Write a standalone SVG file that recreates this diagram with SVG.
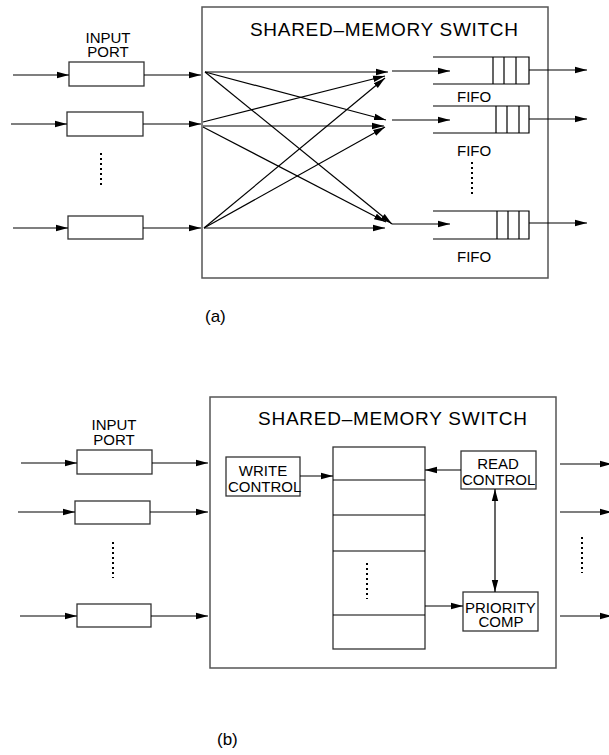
<svg xmlns="http://www.w3.org/2000/svg" width="609" height="755" viewBox="0 0 609 755">
<defs>
<marker id="ah" markerUnits="userSpaceOnUse" markerWidth="12" markerHeight="8" viewBox="0 0 12 8" refX="12" refY="4" orient="auto-start-reverse">
<path d="M0,0.8 L12,4 L0,7.2 Z" fill="#000"/>
</marker>
</defs>
<style>
.box{fill:#fff;stroke:#333;stroke-width:1.3}
.frame{fill:#fff;stroke:#555;stroke-width:1.5}
.ln{stroke:#000;stroke-width:1.2;fill:none}
.ar{stroke:#000;stroke-width:1.2;fill:none;marker-end:url(#ah)}
.dots{stroke:#000;stroke-width:2;stroke-dasharray:2 3;fill:none}
text{font-family:"Liberation Sans",Arial,sans-serif;fill:#000}
.lbl{font-size:15px}
.ttl{font-size:19px}
.cap{font-size:17px}
</style>

<g id="a-switch">
<rect class="frame" x="202" y="7" width="346" height="271"/>
<text class="ttl" x="250" y="36" textLength="268">SHARED–MEMORY SWITCH</text>
</g>

<g id="a-inport1">
<rect class="box" x="69" y="62" width="75" height="24"/>
<text class="lbl" x="108" y="43" text-anchor="middle">INPUT</text>
<text class="lbl" x="108" y="57" text-anchor="middle">PORT</text>
</g>
<g id="a-inport2"><rect class="box" x="67" y="112" width="76" height="24"/></g>
<g id="a-inport3"><rect class="box" x="68" y="216" width="75" height="23"/></g>

<g id="a-fifo1">
<path class="ln" d="M433,57 H529 V84 H433 M493,57 V84 M504,57 V84 M516,57 V84"/>
<text class="lbl" x="457" y="102">FIFO</text>
</g>
<g id="a-fifo2">
<path class="ln" d="M433,106 H529 V133 H433 M496,106 V133 M507,106 V133 M519,106 V133"/>
<text class="lbl" x="457" y="156">FIFO</text>
</g>
<g id="a-fifo3">
<path class="ln" d="M433,211 H529 V239 H433 M497,211 V239 M508,211 V239 M519,211 V239"/>
<text class="lbl" x="457" y="262">FIFO</text>
</g>

<g id="a-connectors">
<line class="ar" x1="13" y1="75" x2="69" y2="75"/>
<line class="ar" x1="144" y1="75" x2="201" y2="75"/>
<line class="ar" x1="11" y1="124" x2="67" y2="124"/>
<line class="ar" x1="143" y1="124" x2="201" y2="124"/>
<line class="ar" x1="13" y1="228" x2="68" y2="228"/>
<line class="ar" x1="143" y1="228" x2="201" y2="228"/>

<line class="ar" x1="205" y1="72" x2="388" y2="72"/>
<line class="ar" x1="205" y1="72" x2="386" y2="120"/>
<line class="ar" x1="205" y1="72" x2="392" y2="224"/>
<line class="ar" x1="203" y1="122" x2="385" y2="76"/>
<line class="ar" x1="203" y1="126" x2="384" y2="126"/>
<line class="ar" x1="203" y1="127" x2="386" y2="222"/>
<line class="ar" x1="204" y1="228" x2="385" y2="78"/>
<line class="ar" x1="204" y1="228" x2="385" y2="127"/>
<line class="ar" x1="204" y1="228" x2="385" y2="228"/>

<line class="ar" x1="392" y1="71" x2="450" y2="71"/>
<line class="ar" x1="392" y1="120" x2="450" y2="120"/>
<line class="ar" x1="392" y1="224" x2="450" y2="224"/>

<line class="ar" x1="529" y1="70" x2="587" y2="70"/>
<line class="ar" x1="529" y1="119" x2="587" y2="119"/>
<line class="ar" x1="529" y1="223" x2="587" y2="223"/>
</g>

<line class="dots" x1="101" y1="153" x2="101" y2="188"/>
<line class="dots" x1="472" y1="162" x2="472" y2="197"/>
<text class="cap" x="205" y="322">(a)</text>

<g id="b-switch">
<rect class="frame" x="210" y="397" width="346" height="271"/>
<text class="ttl" x="258" y="425" textLength="269">SHARED–MEMORY SWITCH</text>
</g>

<g id="b-inport1">
<rect class="box" x="77" y="450" width="75" height="24"/>
<text class="lbl" x="114" y="430" text-anchor="middle">INPUT</text>
<text class="lbl" x="114" y="445" text-anchor="middle">PORT</text>
</g>
<g id="b-inport2"><rect class="box" x="75" y="501" width="75" height="23"/></g>
<g id="b-inport3"><rect class="box" x="77" y="604" width="74" height="23"/></g>

<g id="b-write">
<rect class="box" x="226" y="457" width="74" height="39"/>
<text class="lbl" x="263" y="476" text-anchor="middle">WRITE</text>
<text class="lbl" x="228" y="492">CONTROL</text>
</g>

<g id="b-memory">
<rect class="box" x="333" y="447" width="92" height="202"/>
<path class="ln" d="M333,480 H425 M333,515 H425 M333,551 H425 M333,615 H425"/>
<line class="dots" x1="367" y1="563" x2="367" y2="599"/>
</g>

<g id="b-read">
<rect class="box" x="461" y="451" width="75" height="38"/>
<text class="lbl" x="498" y="469" text-anchor="middle">READ</text>
<text class="lbl" x="462" y="485">CONTROL</text>
</g>

<g id="b-priority">
<rect class="box" x="463" y="592" width="75" height="39"/>
<text class="lbl" x="465" y="613">PRIORITY</text>
<text class="lbl" x="501" y="627" text-anchor="middle">COMP</text>
</g>

<g id="b-connectors">
<line class="ar" x1="21" y1="463" x2="77" y2="463"/>
<line class="ar" x1="152" y1="463" x2="208" y2="463"/>
<line class="ar" x1="18" y1="512" x2="75" y2="512"/>
<line class="ar" x1="150" y1="512" x2="208" y2="512"/>
<line class="ar" x1="20" y1="616" x2="77" y2="616"/>
<line class="ar" x1="151" y1="616" x2="208" y2="616"/>

<line class="ar" x1="300" y1="476" x2="333" y2="476"/>
<line class="ar" x1="461" y1="470" x2="425" y2="470"/>
<line class="ar" x1="425" y1="606" x2="463" y2="606"/>
<line class="ar" x1="495" y1="489" x2="495" y2="592" style="marker-start:url(#ah)"/>

<line class="ar" x1="560" y1="464" x2="612" y2="464"/>
<line class="ar" x1="560" y1="512" x2="612" y2="512"/>
<line class="ar" x1="560" y1="616" x2="612" y2="616"/>
</g>

<line class="dots" x1="113" y1="542" x2="113" y2="578"/>
<line class="dots" x1="582" y1="537" x2="582" y2="573"/>
<text class="cap" x="217" y="745">(b)</text>
</svg>
